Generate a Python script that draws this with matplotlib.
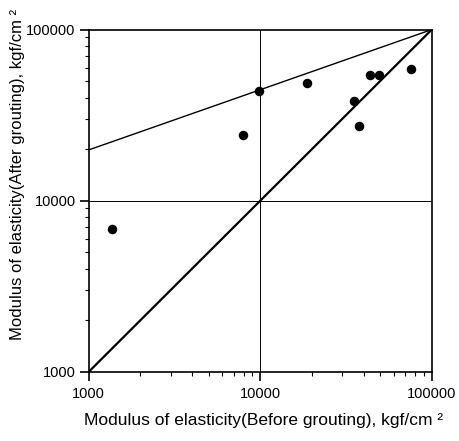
import matplotlib
matplotlib.use("Agg")
import matplotlib.pyplot as plt
from matplotlib.ticker import LogLocator, FixedLocator, FixedFormatter, NullFormatter

plt.rcParams['font.family'] = ['Liberation Sans', 'DejaVu Sans']

# modulus of elasticity before / after grouting, kgf/cm2
e_before = [1360, 7980, 9840, 18700, 35100, 37800, 43900, 49100, 75700]
e_after = [6850, 24300, 43700, 48400, 38400, 27400, 54300, 54300, 58800]

# reference lines
equal_x = [1000, 100000]
equal_y = [1000, 100000]
trend_x = [1000, 100000]
trend_y = [19800, 100000]

ticks = [1000, 10000, 100000]
tick_labels = ["1000", "10000", "100000"]

fig = plt.figure(figsize=(4.6, 4.41), dpi=100)
ax = fig.add_axes([0.193, 0.157, 0.7457, 0.776])

ax.set_xscale('log')
ax.set_yscale('log')
ax.set_xlim(1000, 100000)
ax.set_ylim(1000, 100000)

ax.plot(equal_x, equal_y, color='black', lw=1.6, zorder=2)
ax.plot(trend_x, trend_y, color='black', lw=1.0, zorder=2)
ax.scatter(e_before, e_after, s=34, color='black', zorder=3)

ax.axvline(10000, color='black', lw=0.7, zorder=1)
ax.axhline(10000, color='black', lw=0.7, zorder=1)

for axis in (ax.xaxis, ax.yaxis):
    axis.set_major_locator(FixedLocator(ticks))
    axis.set_major_formatter(FixedFormatter(tick_labels))
    axis.set_minor_locator(LogLocator(base=10, subs=range(2, 10)))
    axis.set_minor_formatter(NullFormatter())

ax.tick_params(which='major', direction='out', length=6.5, width=1.2, labelsize=10.5)
ax.tick_params(axis='y', which='major', pad=3)
ax.tick_params(axis='x', which='major', pad=4.5)
ax.tick_params(which='minor', direction='out', length=2.8, width=0.8)
for side in ax.spines.values():
    side.set_linewidth(1.2)

fig.text(0.572, (441 - 425) / 441, "Modulus of elasticity(Before grouting), kgf/cm \u00b2",
         ha='center', va='baseline', fontsize=12.5)
fig.text(0.037, 1 - 340 / 441, "Modulus of elasticity(After grouting), kgf/cm \u00b2",
         rotation=90, ha='center', va='bottom', fontsize=12)

fig.savefig("out.png", dpi=100)
